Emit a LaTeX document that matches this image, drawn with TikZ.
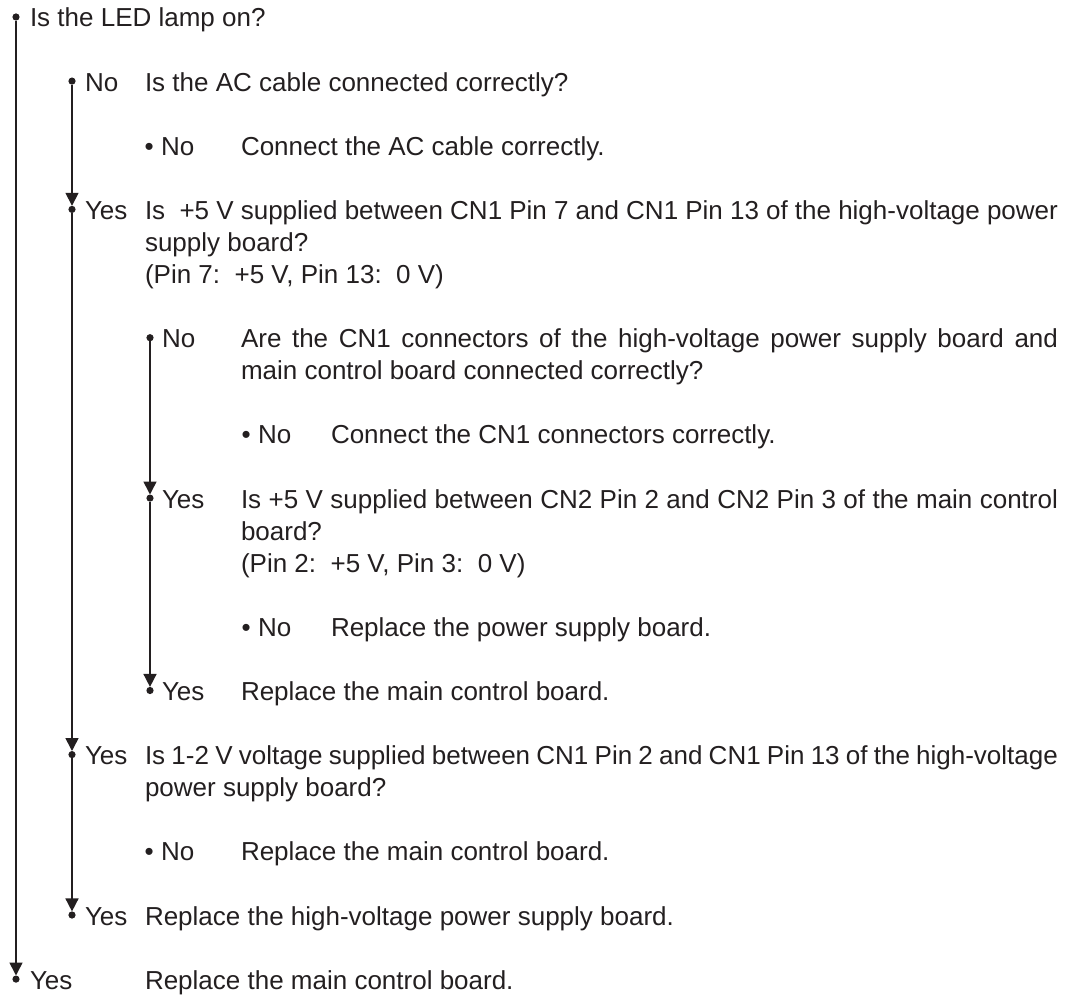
\documentclass[tikz,border=0pt]{standalone}
\usepackage{fontspec}
\setmainfont{Liberation Sans}
\usetikzlibrary{arrows.meta}
\definecolor{ink}{RGB}{35,31,32}
\begin{document}
\begin{tikzpicture}[x=0.5pt,y=-0.5pt,
  every node/.style={inner sep=0pt, outer sep=0pt, text=ink, font=\fontsize{13pt}{16.035pt}\selectfont},
  txt/.style={anchor=base west},
  para/.style={anchor=base west, align=justify, text width=#1},
  dot/.style={circle, fill=ink, minimum size=3.6pt, inner sep=0pt},
  conn/.style={draw=ink, line width=0.8pt},
  arr/.style={conn, -{Triangle[width=6.5pt,length=6.5pt]}}]
\useasboundingbox (0,0) rectangle (1074,994);
% level 0
\node[dot] (a0) at (16,17) {};
\node[txt] (ta) at (30,27) {Is the LED lamp on?};
% level 1 : No
\node[dot] (b1) at (72,81.1) {};
\node[txt] (lb) at (85,91.1) {No};
\node[txt] (tb) at (145,91.1) {Is the AC cable connected correctly?};
\node[txt] (lc) at (144.7,155.3) {• No};
\node[txt] (tc) at (241,155.3) {Connect the AC cable correctly.};
% level 1 : Yes
\node[dot] (d1) at (72,209.4) {};
\node[txt] (ld) at (85,219.4) {Yes};
\node[para=456.5pt] (td) at (145,219.4) {Is\ \ +5 V supplied between CN1 Pin 7 and CN1 Pin 13 of the high-voltage power\linebreak supply board?\\(Pin 7:\ \ +5 V, Pin 13:\ \ 0 V)};
% level 2
\node[dot] (e2) at (150,337.7) {};
\node[txt] (le) at (162,347.7) {No};
\node[para=408.5pt] (te) at (241,347.7) {Are the CN1 connectors of the high-voltage power supply board and\linebreak main control board connected correctly?};
\node[txt] (lf) at (241.7,443.9) {• No};
\node[txt] (tf) at (331,443.9) {Connect the CN1 connectors correctly.};
\node[dot] (g2) at (150,498.1) {};
\node[txt] (lg) at (162,508.1) {Yes};
\node[para=408.5pt] (tg) at (241,508.1) {Is +5 V supplied between CN2 Pin 2 and CN2 Pin 3 of the main control\linebreak board?\\(Pin 2:\ \ +5 V, Pin 3:\ \ 0 V)};
\node[txt] (lh) at (241.7,636.3) {• No};
\node[txt] (th) at (331,636.3) {Replace the power supply board.};
\node[dot] (i2) at (150,690.5) {};
\node[txt] (li) at (162,700.5) {Yes};
\node[txt] (ti) at (241,700.5) {Replace the main control board.};
% level 1 continued
\node[dot] (j1) at (72,754.6) {};
\node[txt] (lj) at (85,764.6) {Yes};
\node[para=456.5pt] (tj) at (145,764.6) {Is 1-2 V voltage supplied between CN1 Pin 2 and CN1 Pin 13 of the high-voltage\linebreak power supply board?};
\node[txt] (lk) at (144.7,860.8) {• No};
\node[txt] (tk) at (241,860.8) {Replace the main control board.};
\node[dot] (l1) at (72,915) {};
\node[txt] (ll) at (85,925) {Yes};
\node[txt] (tl) at (145,925) {Replace the high-voltage power supply board.};
% level 0 end
\node[dot] (m0) at (16,979.1) {};
\node[txt] (lm) at (30,989.1) {Yes};
\node[txt] (tm) at (145,989.1) {Replace the main control board.};
% connectors
\draw[arr] (a0) -- (m0);
\draw[arr] (b1) -- (d1);
\draw[arr] (d1) -- (j1);
\draw[arr] (j1) -- (l1);
\draw[arr] (e2) -- (g2);
\draw[arr] (g2) -- (i2);
\end{tikzpicture}
\end{document}
